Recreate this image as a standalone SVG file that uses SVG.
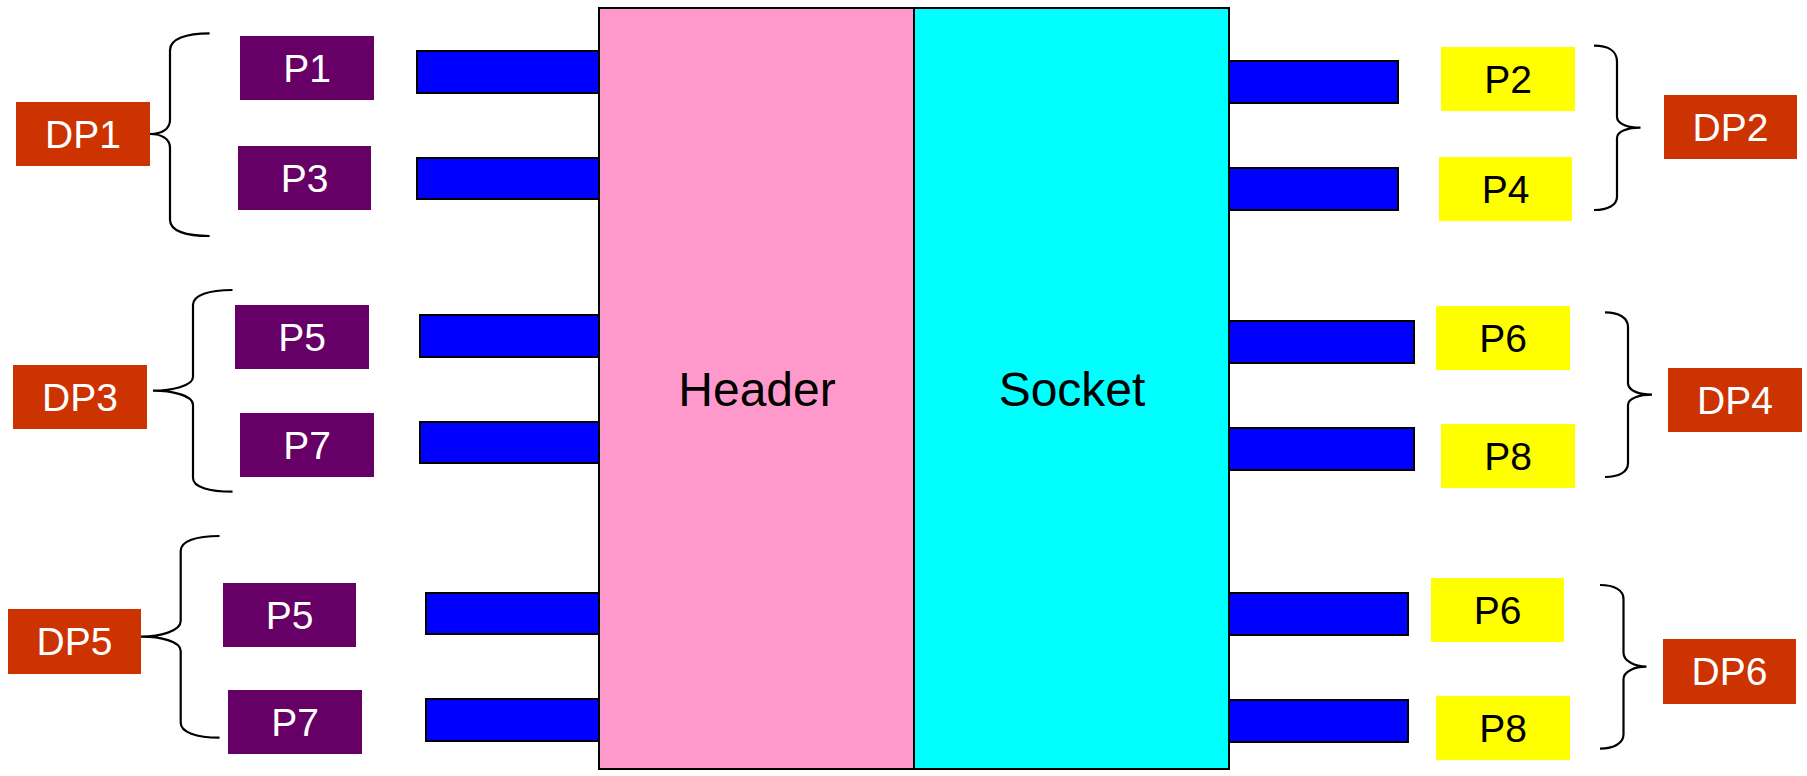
<svg xmlns="http://www.w3.org/2000/svg" width="1807" height="776" viewBox="0 0 1807 776">
<style>
.pin{fill:#0000FF;stroke:#000;stroke-width:2}
.body{stroke:#000;stroke-width:2}
.lp{fill:#660066}
.rp{fill:#FFFF00}
.dp{fill:#CC3300}
.t{font-family:"Liberation Sans",Arial,sans-serif;font-size:39px;text-anchor:middle}
.tw{fill:#FFFFFF}
.tb{fill:#000000}
.big{font-family:"Liberation Sans",Arial,sans-serif;font-size:48px;text-anchor:middle;fill:#000}
.br{fill:none;stroke:#000;stroke-width:2.2}
</style>
<rect width="1807" height="776" fill="#FFFFFF"/>
<g id="pins">
<rect class="pin" x="417" y="51" width="184" height="42"/>
<rect class="pin" x="417" y="158" width="184" height="41"/>
<rect class="pin" x="420" y="315" width="181" height="42"/>
<rect class="pin" x="420" y="422" width="181" height="41"/>
<rect class="pin" x="426" y="593" width="175" height="41"/>
<rect class="pin" x="426" y="699" width="175" height="42"/>
<rect class="pin" x="1227" y="61" width="171" height="42"/>
<rect class="pin" x="1227" y="168" width="171" height="42"/>
<rect class="pin" x="1227" y="321" width="187" height="42"/>
<rect class="pin" x="1227" y="428" width="187" height="42"/>
<rect class="pin" x="1227" y="593" width="181" height="42"/>
<rect class="pin" x="1227" y="700" width="181" height="42"/>
</g>
<g id="header">
<rect class="body" x="599" y="8" width="315" height="761" fill="#FF99CC"/>
<text class="big" x="757" y="406">Header</text>
</g>
<g id="socket">
<rect class="body" x="914" y="8" width="315" height="761" fill="#00FFFF"/>
<text class="big" x="1072" y="406">Socket</text>
</g>
<g id="connectors">
<path class="br" d="M209.6 33.3 C186 33.3 170 39 170 50 L170 120 C170 129 162 134 150 134 C162 134 170 139 170 148 L170 220 C170 231 186 236 209.6 236"/>
<path class="br" d="M232.5 290 C209 290 193 295 193 305 L193 377 C193 386 171 390.7 153 390.7 C171 390.7 193 395 193 405 L193 478 C193 487 209 491.7 232.5 491.7"/>
<path class="br" d="M219.5 536 C196 536 180.7 541 180.7 551 L180.7 621 C180.7 631 160 636.7 141 636.7 C160 636.7 180.7 641 180.7 651 L180.7 722.7 C180.7 732 196 737.7 219.5 737.7"/>
<path class="br" d="M1594 45.7 C1608 45.7 1617 51 1617 61.7 L1617 116.7 C1617 124 1628 127.7 1640.5 127.7 C1628 127.7 1617 131 1617 138 L1617 196.7 C1617 205 1608 210 1594 210"/>
<path class="br" d="M1605 312.3 C1619 312.3 1628 318 1628 326.7 L1628 383.3 C1628 391 1640 394.7 1652 394.7 C1640 394.7 1628 398 1628 405 L1628 463.3 C1628 472 1619 477 1605 477"/>
<path class="br" d="M1600 585 C1614 585 1623.5 590 1623.5 599 L1623.5 652.7 C1623.5 661 1635 666.7 1646.5 666.7 C1635 666.7 1623.5 671 1623.5 679.3 L1623.5 734.3 C1623.5 743 1614 748.7 1600 748.7"/>
</g>
<g id="DP1"><rect class="dp" x="16" y="102" width="134" height="64"/><text class="t tw" x="83" y="148">DP1</text></g>
<g id="DP3"><rect class="dp" x="13" y="365" width="134" height="64"/><text class="t tw" x="80" y="411">DP3</text></g>
<g id="DP5"><rect class="dp" x="8" y="609" width="133" height="65"/><text class="t tw" x="74.5" y="655">DP5</text></g>
<g id="P1"><rect class="lp" x="240" y="36" width="134" height="64"/><text class="t tw" x="307" y="82">P1</text></g>
<g id="P3"><rect class="lp" x="238" y="146" width="133" height="64"/><text class="t tw" x="304.5" y="192">P3</text></g>
<g id="P5"><rect class="lp" x="235" y="305" width="134" height="64"/><text class="t tw" x="302" y="351">P5</text></g>
<g id="P7"><rect class="lp" x="240" y="413" width="134" height="64"/><text class="t tw" x="307" y="459">P7</text></g>
<g id="P5b"><rect class="lp" x="223" y="583" width="133" height="64"/><text class="t tw" x="289.5" y="629">P5</text></g>
<g id="P7b"><rect class="lp" x="228" y="690" width="134" height="64"/><text class="t tw" x="295" y="736">P7</text></g>
<g id="P2"><rect class="rp" x="1441" y="47" width="134" height="64"/><text class="t tb" x="1508" y="93">P2</text></g>
<g id="P4"><rect class="rp" x="1439" y="157" width="133" height="64"/><text class="t tb" x="1505.5" y="203">P4</text></g>
<g id="P6"><rect class="rp" x="1436" y="306" width="134" height="64"/><text class="t tb" x="1503" y="352">P6</text></g>
<g id="P8"><rect class="rp" x="1441" y="424" width="134" height="64"/><text class="t tb" x="1508" y="470">P8</text></g>
<g id="P6b"><rect class="rp" x="1431" y="578" width="133" height="64"/><text class="t tb" x="1497.5" y="624">P6</text></g>
<g id="P8b"><rect class="rp" x="1436" y="696" width="134" height="64"/><text class="t tb" x="1503" y="742">P8</text></g>
<g id="DP2"><rect class="dp" x="1664" y="95" width="133" height="64"/><text class="t tw" x="1730.5" y="141">DP2</text></g>
<g id="DP4"><rect class="dp" x="1668" y="368" width="134" height="64"/><text class="t tw" x="1735" y="414">DP4</text></g>
<g id="DP6"><rect class="dp" x="1663" y="639" width="133" height="65"/><text class="t tw" x="1729.5" y="685">DP6</text></g>
</svg>
